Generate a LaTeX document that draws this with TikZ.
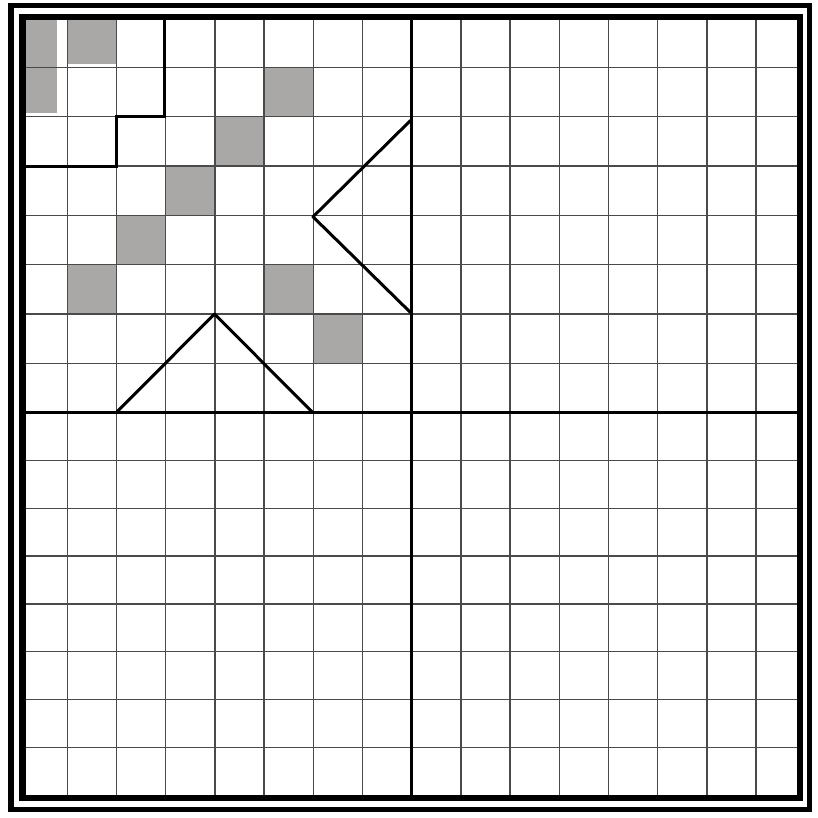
\documentclass[tikz,border=0pt]{standalone}
\definecolor{cellgray}{HTML}{AAA7A7}
\definecolor{gridgray}{HTML}{4A4A4A}
\tikzset{
  cell/.style={fill=cellgray},
  gridline/.style={draw=gridgray,line width=1.4pt},
  heavy/.style={draw=black,line width=3pt,line join=round},
  frame/.style={draw=black,line width=6pt},
}
\begin{document}
\begin{tikzpicture}[x=1pt,y=-1pt]
\useasboundingbox (0,0) rectangle (817,818);
\fill[white] (0,0) rectangle (817,818);
% gray cells
\fill[cell] (25.5,20) rectangle (57,113);
\fill[cell] (67.3,20) rectangle (116.5,64);
\foreach \c/\r in {5/1,4/2,3/3,2/4,1/5,5/5,6/6}{
  \fill[cell] ({67.3+49.2*(\c-1)},{67.5+49.3*(\r-1)}) rectangle ++(49.2,49.3);
}
% grid lines
\foreach \k in {0,...,14}{
  \draw[gridline] ({67.3+49.2*\k},17) -- ({67.3+49.2*\k},798);
}
\foreach \k in {0,...,6}{
  \draw[gridline] (22.5,{67.5+49.3*\k}) -- (800,{67.5+49.3*\k});
}
\foreach \k in {1,...,7}{
  \draw[gridline] (22.5,{412.6+47.82*\k}) -- (800,{412.6+47.82*\k});
}
% middle cross
\draw[heavy] (411.7,17) -- (411.7,798);
\draw[heavy] (22.5,412.6) -- (800,412.6);
% staircase
\draw[heavy,line join=miter] (164.5,17) -- (164.5,116.8) -- (116.2,116.8) -- (116.2,167) -- (22.5,167);
% triangles
\draw[heavy] (410.5,120.5) -- (313,216.8) -- (410.5,312.5);
\draw[heavy] (116.2,412.6) -- (214.5,314) -- (312.8,412.6);
% frames
\draw[frame,line width=6.5pt] (22.5,17) rectangle (800,798);
\draw[frame,line width=5.5pt] (11,5.5) rectangle (809.5,809.5);
\end{tikzpicture}
\end{document}
